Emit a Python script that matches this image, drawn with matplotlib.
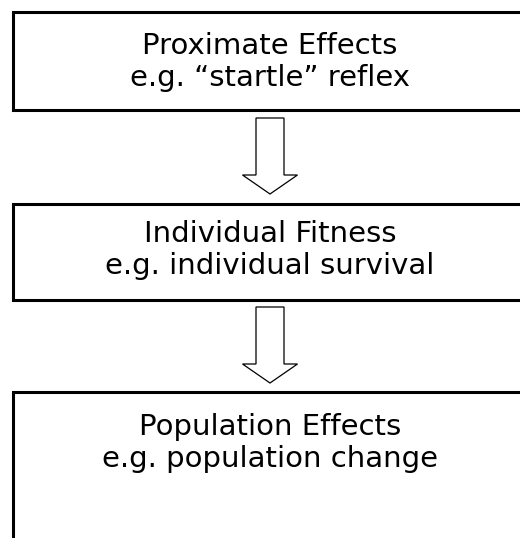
import matplotlib.pyplot as plt
from matplotlib.patches import Rectangle, Polygon

# flow steps, top to bottom
titles = ["Proximate Effects", "Individual Fitness", "Population Effects"]
examples = ["e.g. \u201cstartle\u201d reflex", "e.g. individual survival", "e.g. population change"]

# layout in pixels (y grows downwards)
box_left = 13
box_right = 530
box_tops = [12, 204, 392]
box_bottoms = [110, 300, 600]
text_centers = [62, 250, 443]
arrow_x = 270
arrows = [(118, 175, 194), (307, 364, 383)]  # shaft top, head start, tip


def draw_box(ax, top, bottom):
    rect = Rectangle((box_left, top), box_right - box_left, bottom - top,
                     facecolor='white', edgecolor='black', linewidth=2.2)
    ax.add_patch(rect)


def draw_arrow(ax, top, head, tip, shaft_w=14, head_w=27.5):
    pts = [(arrow_x - shaft_w, top), (arrow_x + shaft_w, top),
           (arrow_x + shaft_w, head), (arrow_x + head_w, head),
           (arrow_x, tip), (arrow_x - head_w, head),
           (arrow_x - shaft_w, head)]
    ax.add_patch(Polygon(pts, closed=True, facecolor='white',
                         edgecolor='black', linewidth=0.9))


fig = plt.figure(figsize=(5.2, 5.38), dpi=100)
ax = fig.add_axes([0, 0, 1, 1])
ax.set_xlim(0, 520)
ax.set_ylim(538, 0)
ax.axis('off')

for i in range(len(titles)):
    draw_box(ax, box_tops[i], box_bottoms[i])
    ax.text(arrow_x, text_centers[i], titles[i] + "\n" + examples[i],
            ha='center', va='center', fontsize=21, linespacing=1.18,
            family='DejaVu Sans', color='black')

for top, head, tip in arrows:
    draw_arrow(ax, top, head, tip)

fig.savefig("out.png", dpi=100)
